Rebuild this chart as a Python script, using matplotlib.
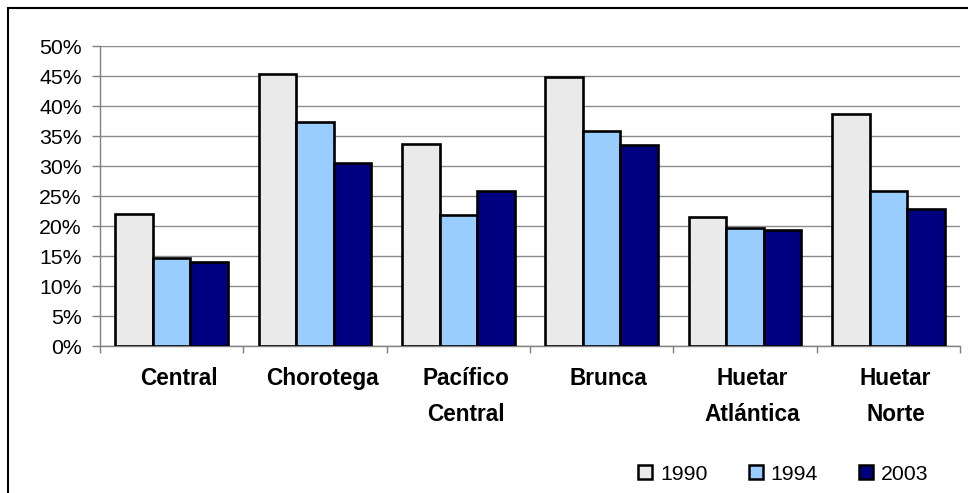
import matplotlib
matplotlib.use("Agg")
import matplotlib.pyplot as plt
import numpy as np
from matplotlib.patches import Rectangle, Patch
from matplotlib.ticker import FuncFormatter, MultipleLocator

regions = ["Central", "Chorotega", "Pacífico\nCentral", "Brunca",
           "Huetar\nAtlántica", "Huetar\nNorte"]
years = ["1990", "1994", "2003"]
v1990 = [22.0, 45.4, 33.6, 44.9, 21.5, 38.7]
v1994 = [14.7, 37.3, 21.9, 35.8, 19.6, 25.9]
v2003 = [14.0, 30.5, 25.9, 33.5, 19.3, 22.8]
colors = ["#EAEAEA", "#99CCFF", "#000080"]

plt.rcParams['font.family'] = ['Liberation Sans', 'DejaVu Sans']

W, H = 968, 493
fig = plt.figure(figsize=(W / 100, H / 100), dpi=100)
ax = fig.add_axes([100 / W, 1 - 346 / H, 860 / W, 300 / H])

x = np.arange(len(regions))
bw = 0.262
for k, vals in enumerate([v1990, v1994, v2003]):
    ax.bar(x + (k - 1) * bw, vals, width=bw, color=colors[k],
           edgecolor="black", linewidth=1.9, zorder=3)

ax.set_xlim(-0.5, len(regions) - 0.5)
ax.set_ylim(0, 50)
ax.yaxis.set_major_locator(MultipleLocator(5))
ax.yaxis.set_major_formatter(FuncFormatter(lambda v, p: f"{v:.0f}%"))
ax.grid(axis="y", color="#8c8c8c", linewidth=1.0, zorder=0)

# category labels at centres, tick marks on the boundaries
ax.set_xticks(x + 0.05)
ax.set_xticklabels(regions, fontsize=16.3, fontweight="bold", linespacing=1.72)
ax.set_xticks(np.arange(-0.5, len(regions)), minor=True)
ax.tick_params(axis="x", which="major", length=0, pad=15)
ax.tick_params(axis="x", which="minor", length=5, width=1, color="#808080",
               direction="out")
ax.tick_params(axis="y", length=6, width=1, color="#808080", pad=7,
               labelsize=15.3)

for side in ["top", "right"]:
    ax.spines[side].set_visible(False)
for side in ["left", "bottom"]:
    ax.spines[side].set_color("#808080")
    ax.spines[side].set_linewidth(1.0)

handles = [Patch(facecolor=c, edgecolor="black", linewidth=1.8) for c in colors]
fig.legend(handles, years, loc="center left",
           bbox_to_anchor=(638 / W, 1 - 474 / H), ncol=3, frameon=False,
           fontsize=15.3, handlelength=0.65, handleheight=0.65,
           handletextpad=0.38, columnspacing=1.95, borderpad=0,
           borderaxespad=0)

# outer chart frame
fig.patches.append(Rectangle((7.5 / W, -0.1), 1.2, 1 - 7.5 / H + 0.1,
                             transform=fig.transFigure, fill=False,
                             edgecolor="black", linewidth=1.5))

fig.savefig("out.png", dpi=100)
